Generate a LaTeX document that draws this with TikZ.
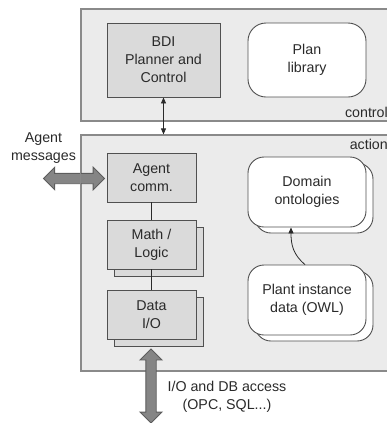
\documentclass[tikz,border=0pt]{standalone}
\usepackage{fontspec}
\setmainfont{Liberation Sans}
\usetikzlibrary{shapes.arrows,arrows.meta,shadows,calc}

\definecolor{panelfill}{HTML}{EBEBEB}
\definecolor{panelline}{HTML}{8A8A8A}
\definecolor{modfill}{HTML}{DADADA}
\definecolor{modline}{HTML}{505050}
\definecolor{arrowfill}{HTML}{858585}
\definecolor{arrowline}{HTML}{5C5C5C}
\definecolor{txt}{HTML}{2A2A2A}

\tikzset{smalltip/.tip={Triangle[length=6bp,width=5bp]}}

\begin{document}
\begin{tikzpicture}[x=1bp,y=-1bp,
  every node/.style={font=\fontsize{14.3}{18}\selectfont, text=txt, align=center, inner sep=0pt},
  panel/.style={draw=panelline, fill=panelfill, line width=1.2bp, minimum width=319bp},
  module/.style={draw=modline, fill=modfill, line width=0.9bp, minimum width=89bp, minimum height=49bp},
  stacked/.style={copy shadow={shadow xshift=7bp, shadow yshift=-7bp}},
  store/.style={draw=modline, fill=white, rounded corners=16bp, line width=0.9bp,
                minimum width=118bp, minimum height=70bp},
  stackedstore/.style={store, copy shadow={shadow xshift=7bp, shadow yshift=-6bp}},
  link/.style={draw=txt, line width=0.8bp},
  bigarrow/.style={double arrow, draw=arrowline, fill=arrowfill, line width=0.9bp,
                   inner sep=4.75bp, double arrow head extend=6bp},
]
\useasboundingbox (0,0) rectangle (387,423);
\clip (0,0) rectangle (387,423);

% the two layers
\node[panel, minimum height=112bp] (control) at (240.5,65) {};
\node[panel, minimum height=236bp] (action) at (240.5,253) {};
\node[anchor=east] (controllabel) at (388,112) {control};
\node[anchor=east] (actionlabel) at (388,144) {action};

% control layer
\node[module, minimum width=113bp, minimum height=74bp] (bdi) at (163.5,60) {BDI\\Planner and\\Control};
\node[store, rounded corners=18bp, minimum height=74bp] (plan) at (307,60) {Plan\\library};

\draw[link, smalltip-smalltip] (bdi.south) -- (bdi.south |- action.north);

% action layer: modules
\node[module] (comm) at (151.5,177.5) {Agent\\comm.};
\node[module, stacked] (math) at (151.5,244.5) {Math /\\Logic};
\node[module, stacked] (dataio) at (151.5,314.5) {Data\\I/O};
\draw[link] (comm) -- (math);
\draw[link] (math) -- (dataio);

% action layer: knowledge stores
\node[stackedstore] (onto) at (307,192) {Domain\\ontologies};
\node[stackedstore] (plant) at (307,300) {Plant instance\\data (OWL)};
\draw[link, -smalltip] ([xshift=-2bp]plant.north) .. controls +(-12,-10) and +(0,17) .. ([xshift=-16bp]onto.south);

% external interfaces
\node[bigarrow, minimum height=61bp, minimum width=22bp] (msgarrow) at (73.9,178.5) {};
\draw[panelline, line width=1.2bp] (action.north west) -- (action.south west);
\node[bigarrow, rotate=90, minimum height=74bp, minimum width=21bp, double arrow head extend=5.75bp] (ioarrow) at (151,386) {};

\node (msglabel) at (43.5,148) {Agent\\messages};
\node (iolabel) at (227,397) {I/O and DB access\\(OPC, SQL...)};
\end{tikzpicture}
\end{document}
